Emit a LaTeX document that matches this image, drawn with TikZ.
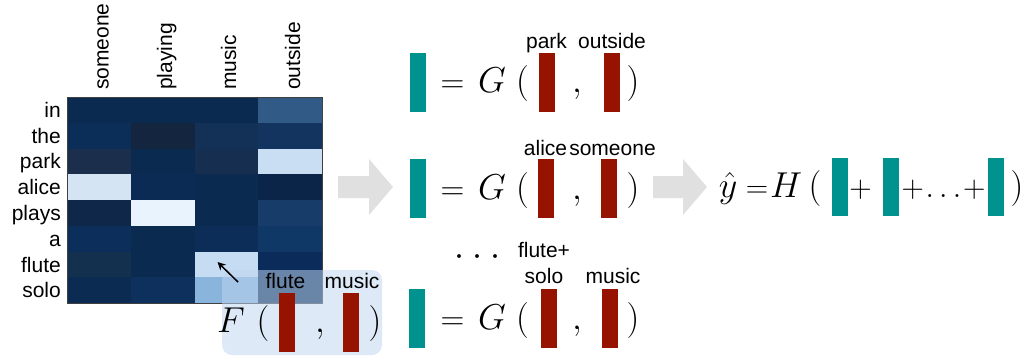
\RequirePackage{fix-cm}
\documentclass[tikz,border=0pt]{standalone}
\usepackage{fontspec}
\newfontfamily\lab{Liberation Sans}
\usetikzlibrary{arrows.meta}
\definecolor{tealc}{HTML}{00928E}
\definecolor{redc}{HTML}{961300}
\definecolor{grayarrow}{HTML}{E0E0E1}
\definecolor{boxc}{HTML}{BED5F0}
\begin{document}
\begin{tikzpicture}[x=1pt,y=-1pt,
  lbl/.style={font=\lab\fontsize{21}{24}\selectfont, inner sep=0pt, anchor=base},
  collbl/.style={lbl, rotate=90, anchor=base west},
  rowlbl/.style={lbl, anchor=base east},
  mth/.style={font=\fontsize{36}{40}\selectfont, inner sep=0pt, anchor=base},
  eqs/.style={font=\fontsize{33}{38}\selectfont, inner sep=0pt, anchor=base},
  smallop/.style={font=\fontsize{31}{36}\selectfont, inner sep=0pt, anchor=base},
  tealbar/.style={fill=tealc, draw=none, minimum width=16pt, minimum height=59pt, inner sep=0pt},
  redbar/.style={fill=redc, draw=none, minimum width=16pt, minimum height=59pt, inner sep=0pt},
  garrow/.style={fill=grayarrow, draw=none},
  fbox/.style={fill=boxc, fill opacity=0.53, draw=none, rounded corners=10pt,
               minimum width=160pt, minimum height=85pt, inner sep=0pt},
  hmframe/.style={draw=black!75, line width=1pt, minimum width=255pt, minimum height=206pt, inner sep=0pt}
]
\useasboundingbox (0,0) rectangle (1035,360);

% ---------- heatmap cells ----------
\foreach \r/\c/\v in {
 0/0/0B2A4F,0/1/0B2A4F,0/2/0B2A4F,0/3/315B86,
 1/0/0B2E58,1/1/14263F,1/2/133057,1/3/13345F,
 2/0/1B2E4C,2/1/0B2A4F,2/2/162F50,2/3/C9DEF3,
 3/0/D4E4F3,3/1/0B2B55,3/2/0B2A4F,3/3/0A2547,
 4/0/0F2748,4/1/E8F3FD,4/2/0B2A4F,4/3/173C6A,
 5/0/0B2E5A,5/1/0B2A4F,5/2/0C2D57,5/3/0F3866,
 6/0/14304F,6/1/0B2A4F,6/2/C6DCF2,6/3/0B2C5A,
 7/0/0B2B52,7/1/0D305C,7/2/89B5DD,7/3/0B2D58}{
  \edef\tmpcol{\noexpand\definecolor{cellc}{HTML}{\v}}\tmpcol
  \fill[cellc] ({67+\c*63.75},{97+\r*25.75}) rectangle ({67+(\c+1)*63.75},{97+(\r+1)*25.75});
}
\node[hmframe] (hm) at (194.5,200) {};

% column labels
\node[collbl] (cSomeone) at (108.5,90) {someone};
\node[collbl] (cPlaying) at (172,90) {playing};
\node[collbl] (cMusic) at (236,90) {music};
\node[collbl] (cOutside) at (300,90) {outside};

% row labels
\node[rowlbl] (rIn) at (61,117.5) {in};
\node[rowlbl] (rThe) at (61,143) {the};
\node[rowlbl] (rPark) at (61,168.5) {park};
\node[rowlbl] (rAlice) at (61,194.5) {alice};
\node[rowlbl] (rPlays) at (61,220.5) {plays};
\node[rowlbl] (rA) at (61,246.5) {a};
\node[rowlbl] (rFlute) at (61,272) {flute};
\node[rowlbl] (rSolo) at (61,297.5) {solo};

% ---------- F box ----------
\node[fbox] (fbox) at (302,312.5) {};
\node[mth] (F) at (231,332) {$F$};
\node[mth] (Fl) at (263,332) {$($};
\node[redbar] (fr1) at (287,322.5) {};
\node[mth] (Fc) at (320,332) {$,$};
\node[redbar] (fr2) at (351,322.5) {};
\node[mth] (Fr) at (375,332) {$)$};
\node[lbl] (lflute) at (285.5,288) {flute};
\node[lbl] (lmusicF) at (352,288) {music};

\coordinate (atail) at (238,282);
\coordinate (atip) at (217.5,262);
\draw[-{Stealth[length=8pt,width=8pt]}, line width=1.5pt] (atail) -- (atip);

% ---------- gray arrows ----------
\fill[garrow] (338,176) -- (369,176) -- (369,159) -- (393,187) -- (369,215) -- (369,198) -- (338,198) -- cycle;
\fill[garrow] (653,176) -- (683,176) -- (683,159) -- (707,187) -- (683,215) -- (683,198) -- (653,198) -- cycle;

% ---------- G row 1 ----------
\node[tealbar] (t1) at (418,82.5) {};
\node[eqs] (e1) at (452.5,92.5) {$=$};
\node[mth] (G1) at (492,92.5) {$G$};
\node[mth] (l1) at (522.5,92.5) {$($};
\node[redbar] (r11) at (546.5,82.5) {};
\node[mth] (c1) at (577,92.5) {$,$};
\node[redbar] (r12) at (612,82.5) {};
\node[mth] (p1) at (633,92.5) {$)$};
\node[lbl] (lpark) at (546.5,48) {park};
\node[lbl] (loutside) at (612,48) {outside};

% ---------- G row 2 ----------
\node[tealbar] (t2) at (418,188.5) {};
\node[eqs] (e2) at (452.5,199) {$=$};
\node[mth] (G2) at (492,199) {$G$};
\node[mth] (l2) at (522.5,199) {$($};
\node[redbar] (r21) at (545.5,188.5) {};
\node[mth] (c2) at (577,199) {$,$};
\node[redbar] (r22) at (609,188.5) {};
\node[mth] (p2) at (633,199) {$)$};
\node[lbl] (lalice) at (545.5,155) {alice};
\node[lbl] (lsomeone) at (612.5,155) {someone};

% ---------- G row 3 ----------
\node[tealbar] (t3) at (417,318.5) {};
\node[eqs] (e3) at (452.5,329) {$=$};
\node[mth] (G3) at (492,329) {$G$};
\node[mth] (l3) at (522.5,329) {$($};
\node[redbar] (r31) at (548.5,318.5) {};
\node[mth] (c3) at (577,329) {$,$};
\node[redbar] (r32) at (609.5,318.5) {};
\node[mth] (p3) at (633,329) {$)$};
\node[lbl] (lfluteplus) at (544,257) {flute+};
\node[lbl] (lsolo) at (544,283) {solo};
\node[lbl] (lmusic) at (613,283) {music};
\node[mth] (vdots) at (477.5,265) {$\cdotp\mkern1.25mu\cdotp\mkern1.25mu\cdotp$};

% ---------- H row ----------
\node[mth] (yhat) at (728,197) {$\hat{y}$};
\node[smallop] (eH) at (757,197) {$=$};
\node[mth] (H) at (786,197) {$H$};
\node[mth] (lH) at (815,197) {$($};
\node[tealbar, minimum height=58pt] (h1) at (840,187) {};
\node[smallop] (plus1) at (860.5,197) {${+}$};
\node[tealbar, minimum height=58pt] (h2) at (891,187) {};
\node[smallop] (pdots) at (943.5,197) {${+}\mkern-2mu\ldots\mkern-2mu{+}$};
\node[tealbar, minimum height=58pt] (h3) at (996,187) {};
\node[mth] (rH) at (1017,197) {$)$};
\end{tikzpicture}
\end{document}
